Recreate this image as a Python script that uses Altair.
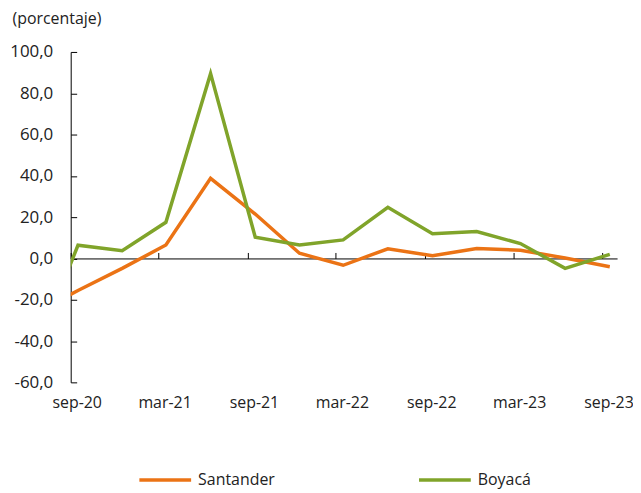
import altair as alt
import pandas as pd

# Quarterly dates (mid-month); the first point (jun-20) lies left of the visible axis and is clipped
dates = ["2020-06-16", "2020-09-16", "2020-12-16", "2021-03-16", "2021-06-16",
         "2021-09-16", "2021-12-16", "2022-03-16", "2022-06-16", "2022-09-16",
         "2022-12-16", "2023-03-16", "2023-06-16", "2023-09-16"]
santander = [-27.0, -15.5, -4.8, 6.5, 38.8, 21.5, 2.5, -3.3, 4.7, 1.3, 4.8, 4.0, 0.2, -4.0]
boyaca = [-48.0, 6.4, 3.7, 17.5, 89.5, 10.3, 6.5, 9.0, 24.8, 12.0, 13.0, 7.2, -4.8, 2.0]

series_names = ["Santander", "Boyacá"]
series_colors = ["#EB7315", "#80A42A"]
y_ticks = [-60, -40, -20, 0, 20, 40, 60, 80, 100]
x_tick_months = [(2020, 9), (2021, 3), (2021, 9), (2022, 3), (2022, 9), (2023, 3), (2023, 9)]
x_domain_months = [(2020, 9), (2023, 10)]

n = len(dates)
df = pd.DataFrame({
    "date": dates * 2,
    "value": santander + boyaca,
    "series": [series_names[0]] * n + [series_names[1]] * n,
})

W, H = 549, 332
Z = H * 100 / 160  # pixel distance from top to the zero line
FONT = "Open Sans"
TXT = "#222222"

x_vals = [alt.DateTime(year=y, month=m, date=1, utc=True) for y, m in x_tick_months]
x_scale = alt.Scale(type="utc",
                    domain=[alt.DateTime(year=y, month=m, date=1, utc=True) for y, m in x_domain_months])
y_scale = alt.Scale(domain=[-60, 100])

lines = alt.Chart(df).mark_line(strokeWidth=3.5, clip=True).encode(
    x=alt.X("date:T", scale=x_scale,
            axis=alt.Axis(orient="bottom", values=x_vals,
                          labelExpr="lower(utcFormat(datum.value, '%b-%y'))",
                          domain=False, ticks=False, grid=False, labelFlush=False,
                          labelPadding=12, labelOffset=6,
                          labelFont=FONT, labelFontSize=16, labelColor=TXT,
                          title=None)),
    y=alt.Y("value:Q", scale=y_scale,
            axis=alt.Axis(orient="left", values=y_ticks,
                          labelExpr="datum.value + ',0'",
                          domain=False, ticks=False, grid=False,
                          labelPadding=18,
                          labelFont=FONT, labelFontSize=17, labelColor=TXT,
                          title="(porcentaje)", titleAngle=0, titleAlign="left",
                          titleBaseline="alphabetic", titleX=-59, titleY=-29,
                          titleFont=FONT, titleFontSize=16, titleFontWeight="normal",
                          titleColor=TXT)),
    color=alt.Color("series:N",
                    scale=alt.Scale(domain=series_names, range=series_colors),
                    legend=alt.Legend(orient="none", legendX=67, legendY=402,
                                      direction="horizontal", symbolType="stroke",
                                      symbolSize=2704, symbolStrokeWidth=3.5,
                                      labelFont=FONT, labelFontSize=16, labelColor=TXT,
                                      labelOffset=5, columnPadding=137, padding=0,
                                      title=None)),
)

frame = alt.Chart(df).mark_point(opacity=0, clip=True).encode(
    x=alt.X("date:T",
            axis=alt.Axis(orient="top", offset=-Z, values=x_vals, labels=False,
                          domain=True, domainColor="#000000", domainWidth=1,
                          ticks=True, tickSize=6, tickColor="#000000", tickWidth=1,
                          grid=False, title=None)),
    y=alt.Y("value:Q",
            axis=alt.Axis(orient="right", offset=-W, values=y_ticks, labels=False,
                          domain=True, domainColor="#000000", domainWidth=1,
                          ticks=True, tickSize=6, tickColor="#000000", tickWidth=1,
                          grid=False, title=None)),
)

chart = alt.layer(frame, lines).resolve_axis(
    x="independent", y="independent"
).properties(
    width=W, height=H,
    padding={"left": 63, "top": 43, "right": 16, "bottom": 106},
    autosize=alt.AutoSizeParams(type="none"),
).configure_view(strokeOpacity=0)

chart.save("out.html", embed_options={"renderer": "svg", "actions": False})
